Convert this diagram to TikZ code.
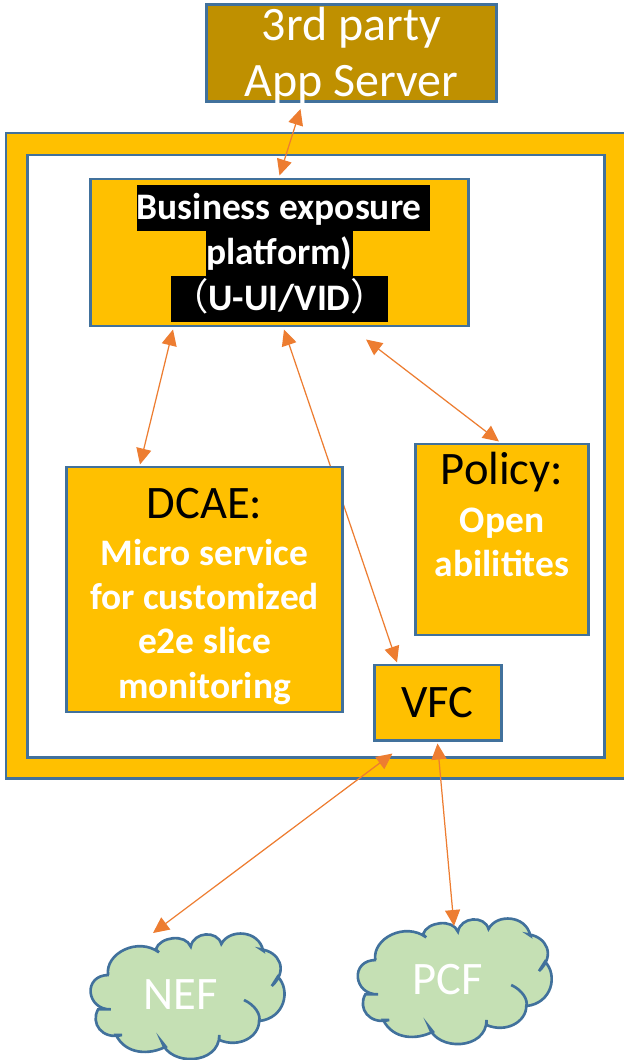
\documentclass[tikz,border=0pt]{standalone}
\usepackage{fontspec}
\setmainfont{Carlito}
\newfontfamily\cjk{Noto Sans CJK SC}
\usetikzlibrary{arrows.meta}
\definecolor{edgeblue}{HTML}{41719C}
\definecolor{amber}{HTML}{FFC000}
\definecolor{darkgold}{HTML}{BF9000}
\definecolor{palegreen}{HTML}{C5E0B4}
\definecolor{linkorange}{HTML}{ED7D31}
\newcommand{\bigfont}{\fontsize{26.5}{27}\selectfont}
\newcommand{\midfont}{\fontsize{21.3}{25.2}\selectfont\bfseries}
\newcommand{\headline}[2]{{\bigfont\mdseries\color{black}\rule{0pt}{#1}#2}}
\tikzset{
    cloudy/.pic={
        \begin{scope}[x=0.00795cm, y=-0.00667cm, shift={(-453,-765)}]
            \draw[draw=edgeblue, line width=1.5pt, fill=palegreen]
                (270,705) .. controls (262,640) and (345,590) .. (398,637)
                -- (390,628) .. controls (400,590) and (465,580) .. (478,620)
                .. controls (485,575) and (545,570) .. (555,612)
                .. controls (575,565) and (650,570) .. (660,632)
                -- (655,628) .. controls (700,635) and (725,690) .. (682,738)
                -- (697,710) .. controls (730,750) and (715,835) .. (650,843)
                .. controls (650,890) and (600,925) .. (550,900)
                -- (550,885) .. controls (550,975) and (425,980) .. (405,905)
                -- (415,920) .. controls (375,945) and (315,945) .. (290,885)
                -- (305,885) .. controls (255,900) and (225,850) .. (245,808)
                -- (277,808) .. controls (215,810) and (205,705) .. (272,705) -- cycle;
            \draw[draw=edgeblue, line width=1.5pt] (612,780) .. controls (640,795) and (655,825) .. (650,843);
        \end{scope}
    }
}
\begin{document}
\begin{tikzpicture}[
        box/.style={rectangle, draw=edgeblue, line width=1.7pt, fill=amber, align=center, inner sep=0pt, text=black},
        band/.style={rectangle, fill=black, text=white, inner sep=0pt, text height=0.69cm, text depth=0.23cm, font=\midfont},
        puff/.style={text=white, inner sep=0pt, font=\bigfont},
        arrow/.style={{Triangle[length=3.2mm,width=3mm]}-{Triangle[length=3.2mm,width=3mm]}, draw=linkorange, line width=0.7pt}
    ]
        \useasboundingbox (0,0) rectangle (12.46,-21.2);

        \node[box, minimum width=12.84cm, minimum height=12.9cm] (outer) at (6.54,-9.11) {};
        \node[box, fill=white, minimum width=11.54cm, minimum height=12.04cm] (inner) at (6.32,-9.12) {};
        \node[box, fill=darkgold, text=white, font=\fontsize{27.3}{32.4}\selectfont, minimum width=5.8cm, text height=1.85cm, text depth=0.09cm] (app) at (7.03,-1.06) {3rd party\\App Server};
        \node[box, minimum width=7.56cm, minimum height=2.94cm] (platform) at (5.59,-5.05) {};
        \node[band, minimum width=5.86cm] (bandone) at (5.67,-4.16) {Business exposure\hspace*{0.17cm}};
        \node[band, minimum width=2.94cm] (bandtwo) at (5.59,-5.07) {platform)};
        \node[band, minimum width=4.34cm] (bandthree) at (5.59,-5.98) {{\cjk\mdseries （}U-UI/VID{\cjk\mdseries ）}};
        \node[box, minimum width=2.54cm, minimum height=1.5cm, font=\bigfont] (vfc) at (8.75,-14.05) {VFC};

        \pic at (3.616,-19.9) {cloudy};
        \node[puff] (nef) at (3.616,-19.9) {NEF};
        \pic at (8.96,-19.6) {cloudy};
        \node[puff] (pcf) at (8.96,-19.6) {PCF};

        \draw[arrow] ([xshift=-1.02cm,yshift=-0.12cm]app.south) -- ([yshift=0.04cm]platform.north);
        \draw[arrow] ([xshift=0.09cm,yshift=-0.04cm]platform.south) -- ([xshift=-0.81cm,yshift=0.02cm]vfc.north);

        \node[box, text=white, font=\midfont, minimum width=5.52cm, minimum height=4.9cm] (dcae) at (4.09,-11.79) {\headline{0.88cm}{DCAE:}\\[1.5pt] Micro service\\ for customized\\ e2e slice\\ monitoring};
        \node[box, text=white, font=\midfont, minimum width=3.46cm, minimum height=3.82cm] (policy) at (10.04,-10.79) {\headline{0.7cm}{Policy:}\\[2pt] Open\\ abilitites\\ \rule[-0.16cm]{0pt}{0.16cm}};

        \draw[arrow] ([xshift=-2.13cm,yshift=-0.04cm]platform.south) -- ([xshift=-1.29cm,yshift=0.02cm]dcae.north);
        \draw[arrow] ([xshift=1.73cm,yshift=-0.24cm]platform.south) -- ([xshift=-0.06cm,yshift=0.02cm]policy.north);
        \draw[arrow] ([xshift=-0.9cm,yshift=-0.24cm]vfc.south) -- ([xshift=-0.556cm,yshift=1.24cm]nef.center);
        \draw[arrow] ([yshift=-0.04cm]vfc.south) -- ([xshift=0.12cm,yshift=1.08cm]pcf.center);
    \end{tikzpicture}
\end{document}
